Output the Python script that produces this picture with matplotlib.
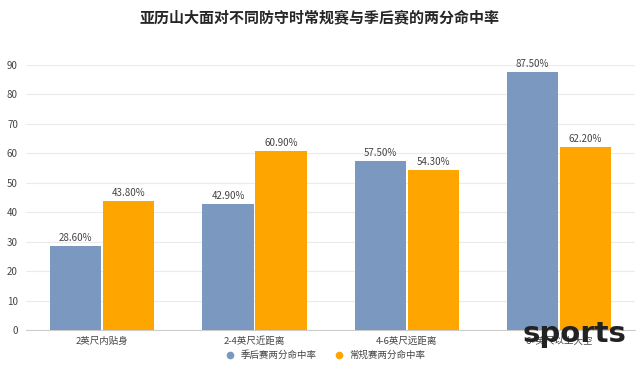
import numpy as np
import matplotlib.pyplot as plt

plt.rcParams['font.family'] = ['Noto Sans CJK SC', 'DejaVu Sans']

categories = ['2英尺内贴身', '2-4英尺近距离', '4-6英尺远距离', '6+英尺以上大空']
playoffs = [28.6, 42.9, 57.5, 87.5]
regular = [43.8, 60.9, 54.3, 62.2]
series_names = ['季后赛两分命中率', '常规赛两分命中率']
yticks = [0, 10, 20, 30, 40, 50, 60, 70, 80, 90]

c_blue = '#7b98c1'
c_orange = '#ffa500'

fig = plt.figure(figsize=(6.4, 3.67), dpi=100)
ax = fig.add_axes([0.041, 0.1008, 0.951, 0.7222])

x = np.arange(len(categories))
w = 0.336
b1 = ax.bar(x - 0.174, playoffs, w, color=c_blue, label=series_names[0], zorder=3)
b2 = ax.bar(x + 0.174, regular, w, color=c_orange, label=series_names[1], zorder=3)

for bars in (b1, b2):
    for r in bars:
        ax.text(r.get_x() + r.get_width() / 2, r.get_height() + 1.0,
                '%.2f%%' % r.get_height(), ha='center', va='bottom',
                fontsize=7, color='#444444')

ax.set_xlim(-0.5, 3.5)
ax.set_ylim(0, 90)
ax.set_yticks(yticks)
ax.set_xticks(x)
ax.set_xticklabels(categories, fontsize=6.8, color='#444444')
ax.tick_params(axis='y', labelsize=7, labelcolor='#444444', length=0, pad=6)
ax.tick_params(axis='x', length=0, pad=5)
ax.grid(axis='y', color='#ebebeb', linewidth=0.8, zorder=0)
for s in ['top', 'right', 'left']:
    ax.spines[s].set_visible(False)
ax.spines['bottom'].set_color('#cccccc')

fig.text(0.5, 0.953, '亚历山大面对不同防守时常规赛与季后赛的两分命中率',
         ha='center', va='center', fontsize=10.8, fontweight='bold', color='#262626')

leg = fig.legend(handles=[plt.Line2D([], [], marker='o', ls='', color=c_blue, markersize=4.5),
                          plt.Line2D([], [], marker='o', ls='', color=c_orange, markersize=4.5)],
                 labels=series_names, loc='center', bbox_to_anchor=(0.505, 0.032),
                 ncol=2, frameon=False, fontsize=6.8, handletextpad=0.1,
                 columnspacing=1.4)
for t in leg.get_texts():
    t.set_color('#444444')

fig.text(0.978, 0.09, 'sports', ha='right', va='center', fontsize=21,
         fontweight='bold', color='#222222', family='DejaVu Sans')

fig.savefig('out.png', dpi=100)
